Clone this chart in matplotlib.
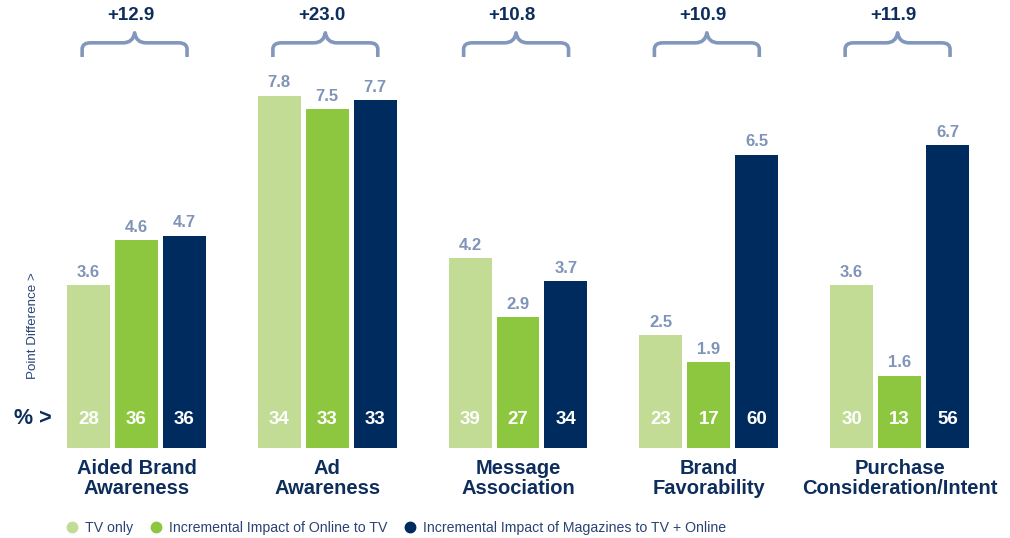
import matplotlib
matplotlib.use('Agg')
import matplotlib.pyplot as plt
from matplotlib.path import Path
from matplotlib.patches import PathPatch
from matplotlib.lines import Line2D
import numpy as np

plt.rcParams['font.family'] = ['Liberation Sans', 'DejaVu Sans']

# ---------------- data ----------------
categories = ['Aided Brand\nAwareness', 'Ad\nAwareness', 'Message\nAssociation',
              'Brand\nFavorability', 'Purchase\nConsideration/Intent']
series_names = ['TV only', 'Incremental Impact of Online to TV',
                'Incremental Impact of Magazines to TV + Online']
# point differences (bar heights)
tv_only = [3.6, 7.8, 4.2, 2.5, 3.6]
online_tv = [4.6, 7.5, 2.9, 1.9, 1.6]
mags_tv_online = [4.7, 7.7, 3.7, 6.5, 6.7]
# percentages shown inside the bars
pct_tv_only = [28, 34, 39, 23, 30]
pct_online_tv = [36, 33, 27, 17, 13]
pct_mags = [36, 33, 34, 60, 56]
# total lift per measure
totals = ['+12.9', '+23.0', '+10.8', '+10.9', '+11.9']

colors = ['#c2dc96', '#8dc63f', '#002b5e']
navy = '#0d2d5c'
grey_blue = '#8094b8'
brace_color = '#8297bc'

# ---------------- figure ----------------
fig = plt.figure(figsize=(10.10, 5.38), dpi=100)
ax = fig.add_axes([0, 1 - 448 / 538, 1, 448 / 538])

x = np.arange(len(categories))
width = 0.2254
step = 0.2516
values = [tv_only, online_tv, mags_tv_online]
pcts = [pct_tv_only, pct_online_tv, pct_mags]

for i, (vals, pc, col) in enumerate(zip(values, pcts, colors)):
    xs = x + (i - 1) * step
    bars = ax.bar(xs, vals, width=width, color=col, linewidth=0)
    for b, v, p in zip(bars, vals, pc):
        cx = b.get_x() + b.get_width() / 2
        ax.annotate(f'{v:.1f}', (cx, v), xytext=(0, 6), textcoords='offset points',
                    ha='center', va='baseline', fontsize=12, fontweight='bold',
                    color=grey_blue)
        ax.text(cx, 0.54, str(p), ha='center', va='baseline', fontsize=13.5,
                fontweight='bold', color='white')


def draw_brace(ax, xc, half, y0=8.66, y1=8.974, ytip=9.196):
    """Curly brace opening downward, centered on xc."""
    xl, xr = xc - half, xc + half
    rc = 0.045
    rt = 0.06
    verts = [
        (xl, y0), (xl, y1 - 0.14),
        (xl, y1), (xl + rc, y1),
        (xc - rt, y1),
        (xc - 0.008, y1), (xc, ytip),
        (xc + 0.008, y1), (xc + rt, y1),
        (xr - rc, y1),
        (xr, y1), (xr, y1 - 0.14),
        (xr, y0),
    ]
    codes = [Path.MOVETO, Path.LINETO,
             Path.CURVE3, Path.CURVE3,
             Path.LINETO,
             Path.CURVE3, Path.CURVE3,
             Path.CURVE3, Path.CURVE3,
             Path.LINETO,
             Path.CURVE3, Path.CURVE3,
             Path.LINETO]
    patch = PathPatch(Path(verts, codes), fill=False, edgecolor=brace_color,
                      linewidth=2.6, capstyle='butt', joinstyle='round')
    ax.add_patch(patch)


for xi, t in zip(x, totals):
    draw_brace(ax, xi - 0.01, 0.275)
    ax.text(xi - 0.03, 9.59, t, ha='center', va='center', fontsize=13.5,
            fontweight='bold', color=navy)

ax.set_xlim(-136.5 / 190.75, (1010 - 136.5) / 190.75)
ax.set_ylim(0, 448 / 45.15)

ax.set_xticks(x)
ax.set_xticklabels(categories, fontsize=14.5, fontweight='bold', color=navy,
                   linespacing=1.05)
ax.tick_params(axis='x', length=0, pad=8)
ax.set_yticks([])
for s in ax.spines.values():
    s.set_visible(False)

# axis hints on the left
ax.text(-0.642, 0.54, '% >', ha='left', va='baseline', fontsize=15.5,
        fontweight='bold', color=navy)
fig.text(32.5 / 1010, 1 - 326 / 538, 'Point Difference >', rotation=90,
         ha='center', va='center', fontsize=9.6, color='#27457a')

# legend
handles = [Line2D([], [], linestyle='none', marker='o', markersize=7.5,
                  markerfacecolor=c, markeredgecolor=c) for c in colors]
fig.legend(handles, series_names, loc='center left',
           bbox_to_anchor=(66.3 / 1010, 1 - 527.7 / 538), ncol=3, frameon=False,
           fontsize=10.2, handlelength=0.8, handletextpad=0.52, columnspacing=1.22,
           borderpad=0, borderaxespad=0, labelcolor='#2a4373')

fig.savefig('out.png', dpi=100)
